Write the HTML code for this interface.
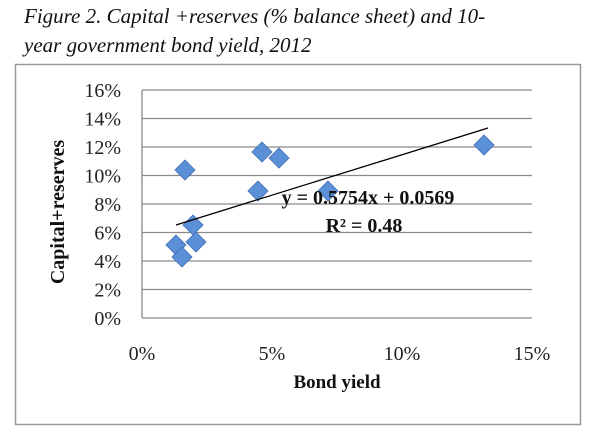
<!DOCTYPE html>
<html><head><style>
body{margin:0;background:#fff;width:611px;height:435px;overflow:hidden}
</style></head><body>
<svg width="611" height="435" xmlns="http://www.w3.org/2000/svg" font-family="Liberation Serif, serif">
<text x="24" y="23" font-size="21" font-style="italic" fill="#111">Figure 2. Capital +reserves (% balance sheet) and 10-</text>
<text x="24" y="52" font-size="21" font-style="italic" fill="#111">year government bond yield, 2012</text>
<rect x="15.5" y="64.5" width="565" height="360" fill="#fff" stroke="#999" stroke-width="1.5"/>
<g stroke="#8a8a8a" stroke-width="1.3">
<line x1="142" y1="90" x2="532" y2="90"/>
<line x1="142" y1="118.5" x2="532" y2="118.5"/>
<line x1="142" y1="147" x2="532" y2="147"/>
<line x1="142" y1="175.5" x2="532" y2="175.5"/>
<line x1="142" y1="204" x2="532" y2="204"/>
<line x1="142" y1="232.5" x2="532" y2="232.5"/>
<line x1="142" y1="261" x2="532" y2="261"/>
<line x1="142" y1="289.5" x2="532" y2="289.5"/>
<line x1="142" y1="318" x2="532" y2="318"/>
<line x1="142" y1="90" x2="142" y2="318"/>
</g>
<g font-size="20" fill="#222" text-anchor="end">
<text x="121" y="97">16%</text><text x="121" y="125.5">14%</text><text x="121" y="154">12%</text>
<text x="121" y="182.5">10%</text><text x="121" y="211">8%</text><text x="121" y="239.5">6%</text>
<text x="121" y="268">4%</text><text x="121" y="296.5">2%</text><text x="121" y="325">0%</text>
</g>
<g font-size="20" fill="#222" text-anchor="middle">
<text x="142" y="360">0%</text><text x="272" y="360">5%</text><text x="402" y="360">10%</text><text x="532" y="360">15%</text>
</g>
<text x="337" y="388" font-size="19" font-weight="bold" text-anchor="middle" fill="#111">Bond yield</text>
<text transform="translate(64,212) rotate(-90)" font-size="20" font-weight="bold" text-anchor="middle" fill="#111">Capital+reserves</text>
<g fill="#5b8fd6" stroke="#3e6fb5" stroke-width="0.8">
<path d="M185 160l10 10-10 10-10-10z"/>
<path d="M262 142l10 10-10 10-10-10z"/>
<path d="M279 148l10 10-10 10-10-10z"/>
<path d="M258 181l10 10-10 10-10-10z"/>
<path d="M328 181l10 10-10 10-10-10z"/>
<path d="M484 135l10 10-10 10-10-10z"/>
<path d="M193 215l10 10-10 10-10-10z"/>
<path d="M196 232l10 10-10 10-10-10z"/>
<path d="M176 235l10 10-10 10-10-10z"/>
<path d="M182 247l10 10-10 10-10-10z"/>
</g>
<line x1="176" y1="225" x2="488" y2="128" stroke="#000" stroke-width="1.3"/>
<g font-size="20" font-weight="bold" text-anchor="middle" fill="#111">
<text x="368" y="204">y = 0.5754x + 0.0569</text>
<text x="364" y="232">R² = 0.48</text>
</g>
</svg>
</body></html>
